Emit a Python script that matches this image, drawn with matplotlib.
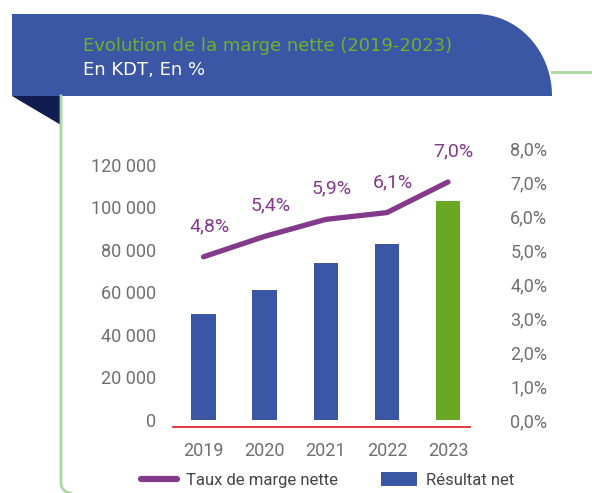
import numpy as np
import matplotlib
matplotlib.use('Agg')
import matplotlib.pyplot as plt
from matplotlib.patches import Polygon, Patch
from matplotlib.lines import Line2D

# data
years = ['2019', '2020', '2021', '2022', '2023']
resultat_net = [50000, 61000, 74000, 83000, 103000]
taux_marge = [4.8, 5.4, 5.9, 6.1, 7.0]
taux_labels = ['4,8%', '5,4%', '5,9%', '6,1%', '7,0%']
left_ticks = [0, 20000, 40000, 60000, 80000, 100000, 120000]
left_labels = ['0', '20 000', '40 000', '60 000', '80 000', '100 000', '120 000']
right_ticks = [0, 1, 2, 3, 4, 5, 6, 7, 8]
right_labels = ['0,0%', '1,0%', '2,0%', '3,0%', '4,0%', '5,0%', '6,0%', '7,0%', '8,0%']

blue = '#3a56a5'
green_bar = '#6aa823'
purple = '#843a8a'
navy = '#111c50'
border_green = '#a8d99c'
grey = '#707070'

plt.rcParams['font.family'] = ['Roboto', 'DejaVu Sans']

fig = plt.figure(figsize=(5.92, 4.93), dpi=100)

# decoration layer, pixel coordinates
deco = fig.add_axes([0, 0, 1, 1], zorder=0)
deco.set_xlim(0, 592)
deco.set_ylim(493, 0)
deco.axis('off')

t = np.linspace(0, np.pi / 2, 40)
rx, ry = 76, 82
arc = np.column_stack([552 - rx + rx * np.sin(t), 14 + ry - ry * np.cos(t)])
header = np.vstack([[[12, 14]], arc, [[552, 96], [12, 96]]])
deco.add_patch(Polygon(header, closed=True, facecolor=blue, edgecolor='none'))
deco.add_patch(Polygon([[12, 96], [61, 96], [61, 125]], closed=True,
                       facecolor=navy, edgecolor='none'))

a = np.linspace(0, np.pi / 2, 20)
bx = np.concatenate([[61, 61], 71 - 10 * np.cos(a)])
by = np.concatenate([[96, 483], 483 + 10 * np.sin(a)])
deco.plot(bx, by, color=border_green, lw=2)
deco.plot([552, 592], [72, 72], color=border_green, lw=2)

deco.text(83, 46, 'Evolution de la marge nette (2019-2023)', color='#6db22a',
          fontsize=13, va='center', ha='left', family='DejaVu Sans')
deco.text(83, 70, 'En KDT, En %', color='white', fontsize=13,
          va='center', ha='left', family='DejaVu Sans')

# chart
ax = fig.add_axes([0.2922, 0.1481, 0.5017, 0.5517], zorder=1)
ax.patch.set_alpha(0)
x = np.arange(len(years))
colors = [blue] * 4 + [green_bar]
bars = ax.bar(x, resultat_net, width=0.4, color=colors)
ax.set_xlim(-0.5, 4.36)
ax.set_ylim(0, 128000)
ax.set_xticks(x)
ax.set_xticklabels(years)
ax.set_yticks(left_ticks)
ax.set_yticklabels(left_labels)
for s in ['top', 'right', 'left']:
    ax.spines[s].set_visible(False)
ax.spines['bottom'].set_color('#e3262f')
ax.spines['bottom'].set_linewidth(1.3)
ax.spines['bottom'].set_position(('outward', 5))
ax.tick_params(axis='x', length=0, pad=11, labelsize=13, labelcolor=grey)
ax.tick_params(axis='y', length=0, pad=12, labelsize=13, labelcolor=grey)

ax2 = ax.twinx()
ax2.set_zorder(2)
line, = ax2.plot(x, taux_marge, color=purple, lw=3.8, solid_capstyle='round',
                 solid_joinstyle='round')
ax2.set_ylim(0, 8.0)
ax2.set_yticks(right_ticks)
ax2.set_yticklabels(right_labels)
for s in ['top', 'right', 'left', 'bottom']:
    ax2.spines[s].set_visible(False)
ax2.tick_params(axis='y', length=0, pad=29, labelsize=13, labelcolor=grey)
for xi, v, lab in zip(x, taux_marge, taux_labels):
    ax2.annotate(lab, (xi, v), xytext=(4, 22), textcoords='offset points',
                 ha='center', va='center', color=purple, fontsize=14)

handles = [Line2D([0], [0], color=purple, lw=4.5, solid_capstyle='round'),
           Patch(facecolor=blue)]
fig.legend(handles, ['Taux de marge nette', 'Résultat net'], ncol=2,
           loc='center left', bbox_to_anchor=(0.238, 1 - 480 / 493),
           frameon=False, fontsize=12, handlelength=2.15, handleheight=0.9,
           handletextpad=0.55, columnspacing=2.6, labelcolor='#444444',
           borderaxespad=0, borderpad=0)

fig.savefig('out.png', dpi=100)
